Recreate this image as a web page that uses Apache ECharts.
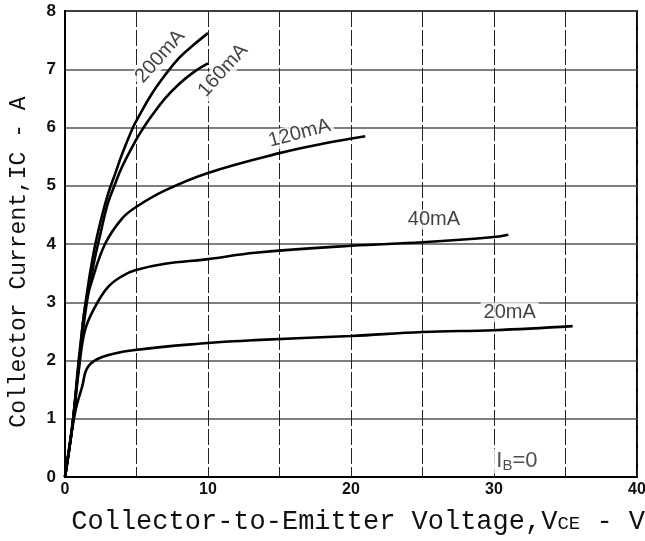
<!DOCTYPE html>
<html><head><meta charset="utf-8">
<script src="https://cdn.jsdelivr.net/npm/echarts@6/dist/echarts.min.js"></script>
<style>html,body{margin:0;padding:0;background:#fff}#c{width:645px;height:541px}</style>
</head><body><div id="c"></div>
<script>
// Collector current IC (A) vs VCE (V), one curve per base current
const curve200mA = [[0,0],[0.5,0.85],[1,2.1],[1.5,3.1],[2,3.85],[2.5,4.4],[3,4.85],[3.5,5.2],[4,5.55],[4.75,6.0],[5,6.12],[6,6.55],[7,6.9],[8,7.2],[9,7.42],[10,7.62]];
const curve160mA = [[0,0],[0.5,0.85],[1,2.0],[1.5,2.95],[2,3.65],[2.5,4.2],[3,4.7],[3.5,5.03],[4,5.33],[5,5.8],[5.5,6.0],[6,6.18],[7,6.5],[8,6.75],[9,6.95],[10,7.1]];
const curve120mA = [[0,0],[0.5,0.85],[1,2.0],[1.4,2.92],[1.9,3.38],[2.8,4.0],[4,4.44],[5,4.64],[7,4.92],[10,5.22],[15,5.56],[18,5.72],[21,5.85]];
const curve40mA  = [[0,0],[0.5,0.85],[1,1.9],[1.4,2.52],[2.1,2.92],[3,3.26],[4,3.45],[4.9,3.55],[7,3.66],[10,3.74],[13.3,3.85],[20,3.97],[25,4.03],[30,4.12],[31,4.16]];
const curve20mA  = [[0,0],[0.7,1.1],[1.2,1.55],[1.6,1.89],[2.6,2.06],[4.9,2.18],[10,2.3],[13.3,2.35],[20,2.42],[25,2.49],[30,2.52],[35.5,2.59]];
const curveNames = ['200mA','160mA','120mA','40mA','20mA'];
const curves = [curve200mA, curve160mA, curve120mA, curve40mA, curve20mA];
// label anchors (data coords) and rotation
const labelText = ['200mA','160mA','120mA','40mA','20mA'];
const labelAt = [[6.65,7.22],[11.05,6.98],[16.4,5.9],[25.8,4.42],[31.1,2.83]];
const labelRot = [48,48,15,0,0];
const xTicks = [0,10,20,30,40];
const yTicks = [0,1,2,3,4,5,6,7,8];
const xTitle = 'Collector-to-Emitter Voltage,V';
const yTitle = 'Collector Current,IC - A';

const chart = echarts.init(document.getElementById('c'), null, {renderer:'canvas'});
const lineSeries = curves.map((d,i)=>({
  type:'line', name:curveNames[i], data:d, smooth:0.4,
  symbol:'none', lineStyle:{color:'#000', width:2.6}, z:3
}));
const labelSeries = {
  type:'scatter', symbolSize:0, z:5,
  data: labelText.map((t,i)=>({value:labelAt[i], name:t,
    label:{show:true, position:'inside', formatter:t, rotate:labelRot[i],
      color:'#111', fontFamily:'Liberation Sans', fontSize:20,
      backgroundColor:'#fff', padding:[0,3]}}))
};
const ibSeries = {
  type:'scatter', symbolSize:0, z:5,
  data:[{value:[31.6,0.27], label:{show:true, position:'inside',
    formatter:'{a|I}{b|B}{a|=0}', backgroundColor:'#fff', padding:[0,3],
    rich:{a:{fontFamily:'Liberation Sans', fontSize:22, color:'#222'},
          b:{fontFamily:'Liberation Sans', fontSize:15, color:'#222', verticalAlign:'bottom', padding:[10,0,0,0]}}}}]
};
chart.setOption({
  animation:false,
  backgroundColor:'#fff',
  grid:{left:65, right:8, top:11, bottom:64, show:true, borderColor:'#000', borderWidth:2, containLabel:false, outerBoundsMode:'none'},
  xAxis:{type:'value', min:0, max:40, interval:5,
    axisLine:{show:true, lineStyle:{color:'#000', width:2}}, axisTick:{show:false},
    axisLabel:{formatter:v=> xTicks.includes(v)? String(v):'', color:'#111', fontFamily:'Liberation Sans', fontWeight:'bold', fontSize:16, margin:5},
    splitLine:{show:true, lineStyle:{color:'#222', width:1, type:[16,3]}}
  },
  yAxis:{type:'value', min:0, max:8, interval:1,
    axisLine:{show:true, lineStyle:{color:'#000', width:2}}, axisTick:{show:false},
    axisLabel:{formatter:v=> yTicks.includes(v)? String(v):'', color:'#111', fontFamily:'Liberation Sans', fontWeight:'bold', fontSize:17, margin:9},
    splitLine:{show:true, lineStyle:{color:'#555', width:1.6}}
  },
  graphic:[
    {type:'text', right:0, top:508, z:10,
      style:{text:'{t|'+xTitle+'}{s|CE}{t| - V}', rich:{t:{fontFamily:'Liberation Mono', fontSize:27, fill:'#111'}, s:{fontFamily:'Liberation Mono', fontSize:19, fill:'#111', padding:[4,0,0,0]}}}},
    {type:'text', x:19, y:262, rotation:Math.PI/2, z:10,
      style:{text:yTitle, fontFamily:'Liberation Mono', fontSize:23, fill:'#111', align:'center', verticalAlign:'middle'}}
  ],
  series:[...lineSeries, labelSeries, ibSeries]
});
</script></body></html>
